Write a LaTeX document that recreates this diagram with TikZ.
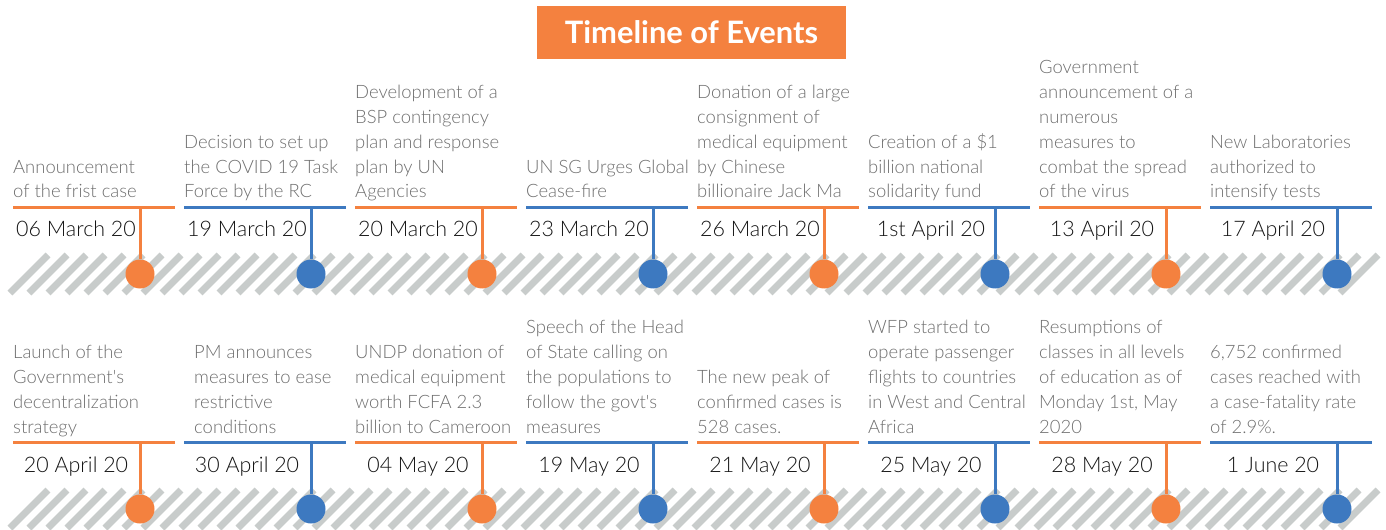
\documentclass[tikz,border=0pt]{standalone}
\usepackage{fontspec}
\setmainfont{Lato}
\newfontfamily\lightfont{Lato Light}
\usetikzlibrary{positioning}
\definecolor{evorange}{HTML}{F4813F}
\definecolor{evblue}{HTML}{3D79C0}
\definecolor{stripegray}{HTML}{C8CCCB}
\definecolor{textgray}{HTML}{6E6E6E}
\definecolor{dategray}{HTML}{141414}
\begin{document}
\begin{tikzpicture}[
			x=1bp, y=-1bp,
			titlebox/.style={
				rectangle,
				fill=evorange,
				text=white,
				minimum width=309bp,
				minimum height=53bp,
				inner sep=0pt,
				font=\rmfamily\bfseries\fontsize{31}{31}\selectfont
			},
			stripe/.style={
				draw=stripegray,
				line width=7bp
			},
			bar/.style={
				line width=3.5bp
			},
			stem/.style={
				line width=3bp
			},
			dot/.style={
				circle,
				minimum size=29bp,
				inner sep=0pt
			},
			datelabel/.style={
				anchor=base,
				inner sep=0pt,
				text=dategray,
				font=\lightfont\fontsize{21.5}{21.5}\selectfont
			},
			eventtext/.style={
				anchor=base west,
				inner sep=0pt,
				text=textgray,
				font=\lightfont\fontsize{18.5}{25}\selectfont
			}
			]
			\useasboundingbox (0,0) rectangle (1386,530);
			
			% Title
			\node [titlebox] (title) at (691.5,32.5) {Timeline of Events};
			
			% Hatched bands behind the dots
			\foreach \r in {0,1}
			\foreach \s in {0,...,70}
			\draw [stripe] (10+19*\s, 293+235*\r) -- ++(38,-38);
			
			% Events: row / column / shift / colour / date / text
			\foreach \r/\x/\dx/\col/\dat/\txt in {
				0/0/0/evorange/{06 March 20}/{Announcement\\of the frist case},
				0/1/0/evblue/{19 March 20}/{Decision to set up\\the COVID 19 Task\\Force by the RC},
				0/2/0/evorange/{20 March 20}/{Development of a\\BSP contingency\\plan and response\\plan by UN\\Agencies},
				0/3/0/evblue/{23 March 20}/{UN SG Urges Global\\Cease-fire},
				0/4/0/evorange/{26 March 20}/{Donation of a large\\consignment of\\medical equipment\\by Chinese\\billionaire Jack Ma},
				0/5/0/evblue/{1st April 20}/{Creation of a \$1\\billion national\\solidarity fund},
				0/6/0/evorange/{13 April 20}/{Government\\announcement of a\\numerous\\measures to\\combat the spread\\of the virus},
				0/7/0/evblue/{17 April 20}/{New Laboratories\\authorized to\\intensify tests},
				1/0/0/evorange/{20 April 20}/{Launch of the\\Government's\\decentralization\\strategy},
				1/1/10/evblue/{30 April 20}/{PM announces\\measures to ease\\restrictive\\conditions},
				1/2/0/evorange/{04 May 20}/{UNDP donation of\\medical equipment\\worth FCFA 2.3\\billion to Cameroon},
				1/3/0/evblue/{19 May 20}/{Speech of the Head\\of State calling on\\the populations to\\follow the govt's\\measures},
				1/4/0/evorange/{21 May 20}/{The new peak of\\confirmed cases is\\528 cases.},
				1/5/0/evblue/{25 May 20}/{WFP started to\\operate passenger\\flights to countries\\in West and Central\\Africa},
				1/6/0/evorange/{28 May 20}/{Resumptions of\\classes in all levels\\of education as of\\Monday 1st, May\\2020},
				1/7/0/evblue/{1 June 20}/{6,752 confirmed\\cases reached with\\a case-fatality rate\\of 2.9\%.}
			}{
				\coordinate (barL\r\x) at (13+171*\x, 207.5+235*\r);
				\coordinate (barR\r\x) at (175+171*\x, 207.5+235*\r);
				\coordinate (stem\r\x) at (140+171*\x, 207.5+235*\r);
				\node [eventtext] (ev\r\x) at (13+171*\x+\dx, 198+235*\r)
				{\parbox[b]{175bp}{\raggedright\txt}};
				\node [datelabel] (date\r\x) at (76+171*\x, 237+235*\r) {\dat};
				\node [dot, fill=\col] (dot\r\x) at (140+171*\x, 274+235*\r) {};
				\draw [bar, draw=\col] (barL\r\x) -- (barR\r\x);
				\draw [stem, draw=\col] (stem\r\x) -- (dot\r\x);
			}
			
			\end{tikzpicture}
\end{document}
